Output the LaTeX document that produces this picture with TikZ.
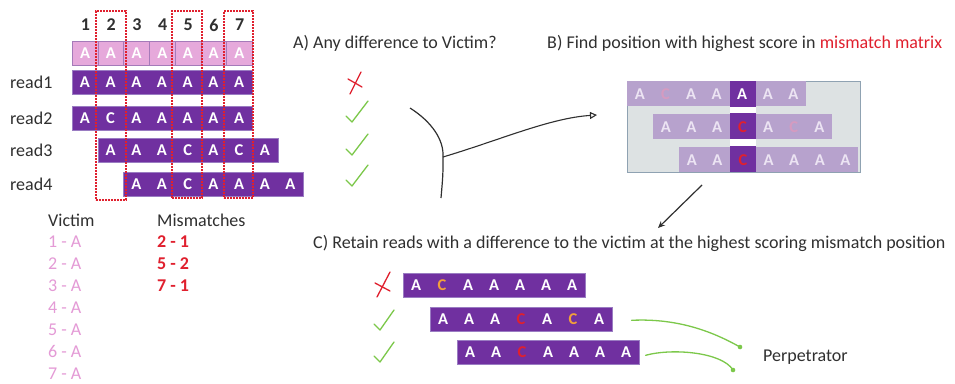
\documentclass[tikz,border=0pt]{standalone}
\usepackage{fontspec}
\setmainfont{Carlito}
\usetikzlibrary{arrows.meta,calc}
\definecolor{purp}{HTML}{7030A0}
\definecolor{purpb}{HTML}{9A7CC2}
\definecolor{pinkv}{HTML}{E6A9DB}
\definecolor{pinkb}{HTML}{A57AB9}
\definecolor{pinktxt}{HTML}{E49AD6}
\definecolor{redm}{HTML}{E0202E}
\definecolor{grn}{HTML}{7CC84A}
\definecolor{txt}{HTML}{303030}
\definecolor{mmfill}{HTML}{DDE2E3}
\definecolor{mmdraw}{HTML}{8FA2B2}
\definecolor{mmrow}{HTML}{B7A2CD}
\definecolor{mmlet}{HTML}{ECE4F3}
\definecolor{fadec}{HTML}{D59BC0}
\definecolor{orng}{HTML}{F2A03A}
\newcommand\readbar[6]{% name, x0, ytop, cell width, letters (l/colour), style
  \node[#6, anchor=north west, minimum width={7*#4}] (#1) at (#2,#3) {};
  \foreach \l/\c [count=\i] in {#5}
    \node[lett, text=\c] (#1-\i) at ($(#1.west)+({#4/2+#4*(\i-1)},0)$) {\l};
}
\begin{document}
\begin{tikzpicture}[x=1pt,y=-1pt,
  font=\fontsize{18}{21}\selectfont,
  lab/.style={inner sep=0pt, anchor=west, text=txt},
  lett/.style={inner sep=0pt, font=\fontsize{16.5}{20}\selectfont\bfseries},
  readbox/.style={rectangle, fill=purp, draw=purpb, line width=0.6pt, minimum height=24pt, inner sep=0pt},
  vcell/.style={rectangle, fill=pinkv, draw=pinkb, line width=0.6pt, minimum width=25.7pt, minimum height=24pt, inner sep=0pt, anchor=north west},
  mmrowbox/.style={rectangle, fill=mmrow, minimum height=25pt, inner sep=0pt},
  reddot/.style={draw=redm, line width=1.7pt, dash pattern=on 1.7pt off 1.3pt, inner sep=0pt, anchor=north west},
  hmark/.style={line width=1.3pt, line cap=round, line join=round},
  gline/.style={draw=grn, line width=1.3pt, line cap=round}
]
\useasboundingbox (0,0) rectangle (955,383);
\fill[white] (0,0) rectangle (955,383);

% ---------- left grid ----------
\foreach \n [count=\i] in {1,...,7}
  \node[inner sep=0pt, text=txt, font=\fontsize{18}{21}\selectfont\bfseries] (num\i) at ({85.5+25.7*(\i-1)},25) {\n};
\foreach \i in {1,...,7}{
  \node[vcell] (v\i) at ({72+25.7*(\i-1)},41) {};
  \node[lett, text=white] (vl\i) at (v\i.center) {A};
}
\readbar{ra}{72}{70}{25.7}{A/white,A/white,A/white,A/white,A/white,A/white,A/white}{readbox}
\readbar{rb}{72}{106}{25.7}{A/white,C/white,A/white,A/white,A/white,A/white,A/white}{readbox}
\readbar{rc}{97.7}{138}{25.7}{A/white,A/white,A/white,C/white,A/white,C/white,A/white}{readbox}
\readbar{rd}{123.4}{172}{25.7}{A/white,A/white,C/white,A/white,A/white,A/white,A/white}{readbox}
\node[lab] (tr1) at (10,82) {read1};
\node[lab] (tr2) at (10,118) {read2};
\node[lab] (tr3) at (10,150) {read3};
\node[lab] (tr4) at (10,184) {read4};
\node[reddot, minimum width=30pt, minimum height=189pt] (c2) at (95,10) {};
\node[reddot, minimum width=30pt, minimum height=187pt] (c5) at (171,10) {};
\node[reddot, minimum width=29pt, minimum height=187pt] (c7) at (223,10) {};

% ---------- victim / mismatches lists ----------
\node[lab] (vict) at (48,220) {Victim};
\foreach \i in {1,...,7}
  \node[lab, text=pinktxt] (vt\i) at (48,{242+21.9*(\i-1)}) {\i\ - A};
\node[lab] (mism) at (157,220) {Mismatches};
\node[lab, text=redm] (m1) at (157,242) {\textbf{2 - 1}};
\node[lab, text=redm] (m2) at (157,264) {\textbf{5 - 2}};
\node[lab, text=redm] (m3) at (157,286) {\textbf{7 - 1}};

% ---------- A ----------
\node[lab] (ta) at (293,43) {A) Any difference to Victim?};
\draw[hmark, redm] (361,72) -- (350,94);
\draw[hmark, redm] (348,79) -- (362,87);
\foreach \y in {116,149,180}
  \draw[hmark, grn] (346,\y) -- (352,{\y+6}) -- (368,{\y-15});
\coordinate (cu1) at (410,108);
\coordinate (cj) at (443,157);
\coordinate (cu2) at (441,198);
\coordinate (btip) at (597,115);
\draw[line width=1.2pt, txt] (cu1) .. controls (432,122) and (444,140) .. (cj) .. controls (443,175) .. (cu2);
\draw[line width=1.1pt, txt, -{Triangle[open, length=7pt, width=7pt]}] (cj) .. controls (500,140) and (550,118) .. (btip);

% ---------- B ----------
\node[lab] (tb) at (547,43) {B) Find position with highest score in \textcolor{redm}{mismatch matrix}};
\node[rectangle, fill=mmfill, draw=mmdraw, line width=0.8pt, anchor=north west, minimum width=233pt, minimum height=91pt, inner sep=0pt] (mm) at (627,81) {};
\readbar{ma}{627}{81}{25.6}{A/mmlet,C/fadec,A/mmlet,A/mmlet,A/mmlet,A/mmlet,A/mmlet}{mmrowbox}
\readbar{mb}{653}{114}{25.6}{A/mmlet,A/mmlet,A/mmlet,C/mmlet,A/mmlet,C/fadec,A/mmlet}{mmrowbox}
\readbar{mc}{679}{147}{25.6}{A/mmlet,A/mmlet,C/mmlet,A/mmlet,A/mmlet,A/mmlet,A/mmlet}{mmrowbox}
\fill[purp] (730,81) rectangle (756,172);
\fill[white] (730,107) rectangle (756,113);
\fill[white] (730,139) rectangle (756,146);
\node[lett, text=white] (h1) at (ma-5) {A};
\node[lett, text=redm] (h2) at (mb-4) {C};
\node[lett, text=redm] (h3) at (mc-3) {C};
\coordinate (bc1) at (702,185);
\coordinate (bc2) at (658,228);
\draw[line width=1.2pt, txt, -{Stealth[length=7pt, width=6pt]}] (bc1) -- (bc2);

% ---------- C ----------
\node[lab] (tc) at (313,243) {C) Retain reads with a difference to the victim at the highest scoring mismatch position};
\readbar{ca}{403}{273}{26}{A/white,C/orng,A/white,A/white,A/white,A/white,A/white}{readbox}
\readbar{cb}{430}{307}{26}{A/white,A/white,A/white,C/redm,A/white,C/orng,A/white}{readbox}
\readbar{cc}{457}{340}{26}{A/white,A/white,C/redm,A/white,A/white,A/white,A/white}{readbox}
\draw[hmark, redm] (390,272) -- (377,297);
\draw[hmark, redm] (375,283) -- (390,291);
\foreach \y in {324,356}
  \draw[hmark, grn] (374,\y) -- (380,{\y+6}) -- (394,{\y-14});
\node[lab] (perp) at (763,357) {Perpetrator};
\draw[gline] (cb.east) ++(19,1) coordinate (g1s) .. controls (680,318) and (715,333) .. (740,347) coordinate (g1e);
\fill[grn] (g1e) circle (2.3pt);
\draw[gline] (cc.east) ++(6,3) coordinate (g2s) .. controls (672,348) and (722,352) .. (733,370) coordinate (g2e);
\fill[grn] (g2e) circle (2.3pt);
\end{tikzpicture}
\end{document}
